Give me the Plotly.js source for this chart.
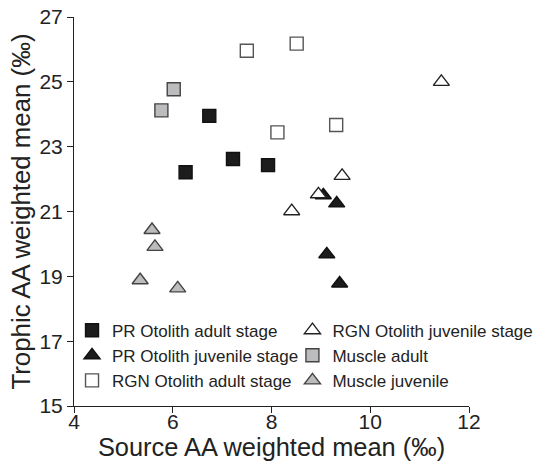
<!DOCTYPE html>
<html><head><meta charset="utf-8">
<script src="https://cdn.plot.ly/plotly-3.0.1.min.js"></script>
<style>html,body{margin:0;padding:0;background:#fff}#chart{width:539px;height:462px}</style>
</head><body><div id="chart"></div>
<script>
// Series data (Source AA weighted mean, Trophic AA weighted mean)
const prAdultX = [6.26, 6.74, 7.22, 7.93];
const prAdultY = [22.21, 23.95, 22.62, 22.43];
const prJuvX = [9.05, 9.32, 9.12, 9.38];
const prJuvY = [21.5, 21.25, 19.68, 18.78];
const rgnAdultX = [7.50, 8.51, 8.12, 9.31];
const rgnAdultY = [25.96, 26.18, 23.44, 23.67];
const rgnJuvX = [11.44, 9.43, 8.95, 8.41];
const rgnJuvY = [25.0, 22.10, 21.53, 21.01];
const muscleAdultX = [5.77, 6.02];
const muscleAdultY = [24.12, 24.77];
const muscleJuvX = [5.58, 5.64, 5.34, 6.10];
const muscleJuvY = [20.43, 19.91, 18.88, 18.63];
const seriesNames = ["PR Otolith adult stage", "PR Otolith juvenile stage", "RGN Otolith adult stage", "RGN Otolith juvenile stage", "Muscle adult", "Muscle juvenile"];
const xTicks = [4, 6, 8, 10, 12];
const yTicks = [15, 17, 19, 21, 23, 25, 27];

function tr(x, y, name, symbol, fill, line, size, leg) {
  return {x: x, y: y, name: name, type: 'scatter', mode: 'markers', legend: leg,
    marker: {symbol: symbol, size: size, color: fill, line: {color: line, width: 1.4}}};
}
const data = [
  tr(prAdultX, prAdultY, seriesNames[0], 'square', '#1c1c1c', '#111', 13, 'legend'),
  tr(prJuvX, prJuvY, seriesNames[1], 'triangle-up', '#1c1c1c', '#111', 14, 'legend'),
  tr(rgnAdultX, rgnAdultY, seriesNames[2], 'square', '#ffffff', '#555', 13, 'legend'),
  tr(rgnJuvX, rgnJuvY, seriesNames[3], 'triangle-up', '#ffffff', '#222', 14, 'legend2'),
  tr(muscleAdultX, muscleAdultY, seriesNames[4], 'square', '#bcbcbe', '#444', 13, 'legend2'),
  tr(muscleJuvX, muscleJuvY, seriesNames[5], 'triangle-up', '#bcbcbe', '#444', 14, 'legend2')
];
const fam = 'Liberation Sans, Arial, sans-serif';
const legFont = {family: fam, size: 17, color: '#222'};
const layout = {
  width: 539, height: 462,
  margin: {l: 74, r: 70, t: 17, b: 56, autoexpand: false},
  paper_bgcolor: '#fff', plot_bgcolor: '#fff',
  font: {family: fam, color: '#222'},
  showlegend: true,
  legend: {x: -0.005, y: 0.24, xanchor: 'left', yanchor: 'top', bgcolor: 'rgba(0,0,0,0)',
    font: legFont, traceorder: 'normal', tracegroupgap: 0},
  legend2: {x: 0.553, y: 0.24, xanchor: 'left', yanchor: 'top', bgcolor: 'rgba(0,0,0,0)',
    font: legFont, traceorder: 'normal', tracegroupgap: 0},
  xaxis: {range: [4, 12], tickvals: xTicks, ticktext: xTicks.map(String),
    showgrid: false, zeroline: false, showline: true, linecolor: '#222', linewidth: 1,
    ticks: 'outside', ticklen: 6, tickcolor: '#222', ticklabelstandoff: -9,
    tickfont: {size: 21, family: fam, color: '#222'},
    title: {text: 'Source AA weighted mean (‰)', font: {size: 25.4, family: fam, color: '#222'}, standoff: 3}},
  yaxis: {range: [15, 27], tickvals: yTicks, ticktext: yTicks.map(String),
    showgrid: false, zeroline: false, showline: true, linecolor: '#222', linewidth: 1,
    ticks: 'outside', ticklen: 6, tickcolor: '#222', tickfont: {size: 21, family: fam, color: '#222'},
    title: {text: 'Trophic AA weighted mean (‰)', font: {size: 25.8, family: fam, color: '#222'}, standoff: 1}}
};
Plotly.newPlot('chart', data, layout, {displayModeBar: false, staticPlot: true});
</script></body></html>
